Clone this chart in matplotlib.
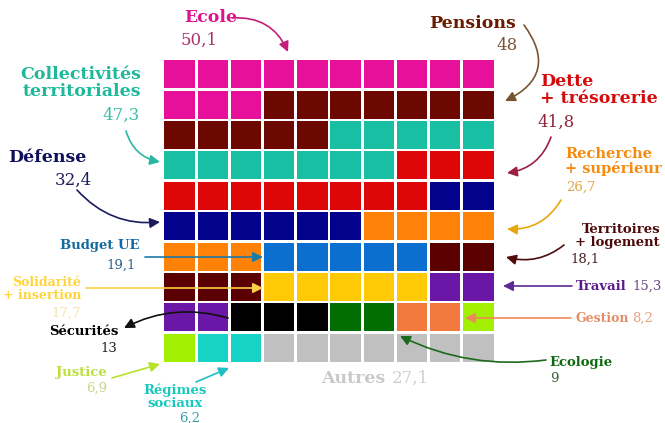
import matplotlib
matplotlib.use("Agg")
import matplotlib.pyplot as plt
from matplotlib.patches import Rectangle

W, H = 665, 423

categories = ["Ecole", "Pensions", "Collectivités territoriales", "Dette + trésorerie",
              "Défense", "Recherche + supérieur", "Budget UE", "Territoires + logement",
              "Solidarité + insertion", "Travail", "Sécurités", "Ecologie", "Gestion",
              "Justice", "Régimes sociaux", "Autres"]
values = [50.1, 48, 47.3, 41.8, 32.4, 26.7, 19.1, 18.1, 17.7, 15.3, 13, 9, 8.2, 6.9, 6.2, 27.1]
value_labels = ["50,1", "48", "47,3", "41,8", "32,4", "26,7", "19,1", "18,1", "17,7",
                "15,3", "13", "9", "8,2", "6,9", "6,2", "27,1"]
cell_colors = ["#e6109a", "#6c0800", "#19bfa3", "#de0606", "#02028c", "#ff8208",
               "#0b6fcf", "#5a0000", "#ffc906", "#6a16a6", "#000000", "#026e02",
               "#f27a3e", "#a2ef04", "#16d3c6", "#c0c0c0"]

n_rows, n_cols = 10, 10
total = sum(values)
counts = [round(v / total * n_rows * n_cols) for v in values]

fig = plt.figure(figsize=(W / 100, H / 100), dpi=100)
fig.patch.set_facecolor("white")

# waffle grid axes
gx0, gx1, gy0, gy1 = 163, 495, 59, 363
ax = fig.add_axes([gx0 / W, 1 - gy1 / H, (gx1 - gx0) / W, (gy1 - gy0) / H])
ax.set_xlim(0, n_cols)
ax.set_ylim(n_rows, 0)
ax.axis("off")

gap = 0.08
idx = 0
for c, col in zip(counts, cell_colors):
    for _ in range(c):
        r, k = divmod(idx, n_cols)
        ax.add_patch(Rectangle((k + gap / 2, r + gap / 2), 1 - gap, 1 - gap,
                               facecolor=col, edgecolor="none"))
        idx += 1

BOLD = dict(family="DejaVu Serif", fontweight="bold")
NUM = dict(family="DejaVu Serif", fontweight="light")


def P(x, y):
    return (x / W, 1 - y / H)


def txt(x, y, s, color, size, ha="left", bold=True, **kw):
    st = BOLD if bold else NUM
    fig.text(*P(x, y), s, color=color, fontsize=size, ha=ha, va="center",
             linespacing=1.0, **st, **kw)


def arrow(x0, y0, x1, y1, color, rad=0.0, lw=1.2):
    ax.annotate("", xy=P(x1, y1), xytext=P(x0, y0),
                xycoords="figure fraction", textcoords="figure fraction",
                arrowprops=dict(arrowstyle="-|>,head_length=0.6,head_width=0.3",
                                color=color, lw=lw,
                                connectionstyle=f"arc3,rad={rad}",
                                shrinkA=0, shrinkB=0),
                annotation_clip=False)


big, small = 12.5, 9.5

# Ecole
txt(211, 18, "Ecole", "#e0138f", big, ha="center")
txt(199, 40, value_labels[0], "#a8346c", 12, ha="center", bold=False)
arrow(232, 18, 288, 52, "#c51d7c", rad=-0.35)

# Collectivités
txt(141, 83, "Collectivités\nterritoriales", "#1db99b", big, ha="right", multialignment="right")
txt(140, 115, value_labels[2], "#3dbfa2", 12, ha="right", bold=False)
arrow(126, 131, 160, 162, "#2ab7a0", rad=0.3)

# Défense
txt(8, 157, "Défense", "#0f0f5e", big)
txt(92, 180, value_labels[4], "#1c1c5c", 12, ha="right", bold=False)
arrow(77, 190, 160, 222, "#1b1b60", rad=0.25)

# Budget UE
txt(140, 246, "Budget UE", "#1469a0", small, ha="right")
txt(136, 265, value_labels[6], "#2a5f8e", 9.5, ha="right", bold=False)
arrow(145, 257, 263, 257, "#1b7aa6", rad=0.0)

# Solidarité
txt(81, 289, "Solidarité\n+ insertion", "#ffd43a", 9, ha="right", multialignment="right")
txt(66, 313, value_labels[8], "#f3e3a6", 9.5, ha="center", bold=False)
arrow(86, 288, 263, 288, "#f9d24a", rad=0.0)

# Sécurités
txt(118, 331, "Sécurités", "#000000", small, ha="right")
txt(117, 348, value_labels[10], "#222222", 9.5, ha="right", bold=False)
arrow(228, 318, 124, 328, "#111111", rad=0.2)

# Justice
txt(81, 372, "Justice", "#bcdf3a", small, ha="center")
txt(97, 388, value_labels[13], "#c6d68c", 9.5, ha="center", bold=False)
arrow(112, 378, 160, 364, "#b7e22c", rad=0.0)

# Régimes sociaux
txt(175, 397, "Régimes\nsociaux", "#18c8bc", small, ha="center", multialignment="center")
txt(190, 418, value_labels[14], "#3f9fa4", 9.5, ha="center", bold=False)
arrow(196, 382, 229, 368, "#21bfc2", rad=0.0)

# Autres
txt(353, 378, "Autres", "#c9c9c9", big, ha="center")
txt(392, 378, value_labels[15], "#cfcfcf", 12, bold=False)

# Pensions
txt(516, 24, "Pensions", "#6b1a00", big, ha="right")
txt(518, 45, value_labels[1], "#7b5236", 12, ha="right", bold=False)
arrow(524, 25, 505, 101, "#7a5431", rad=-0.6)

# Dette
txt(540, 90, "Dette\n+ trésorerie", "#d60a0a", big, multialignment="left")
txt(537, 122, value_labels[3], "#8f2436", 12, bold=False)
arrow(551, 137, 507, 173, "#9c2140", rad=-0.3)

# Recherche
txt(565, 161, "Recherche\n+ supérieur", "#f58a0c", 10.5, multialignment="left")
txt(566, 187, value_labels[5], "#e0a448", 9.5, bold=False)
arrow(561, 200, 507, 229, "#e8a610", rad=-0.3)

# Territoires
txt(660, 236, "Territoires\n+ logement", "#4d0a0a", small, ha="right", multialignment="right")
txt(570, 259, value_labels[7], "#4a2222", 9.5, bold=False)
arrow(564, 245, 506, 257, "#500c0c", rad=-0.25)

# Travail
txt(576, 286, "Travail", "#5a1a8c", small)
txt(632, 286, value_labels[9], "#6a4a80", 9.5, bold=False)
arrow(572, 286, 503, 286, "#5e2a94", rad=0.0)

# Gestion
txt(576, 318, "Gestion", "#e58c66", 9)
txt(632, 318, value_labels[12], "#e3a282", 9.5, bold=False)
arrow(571, 318, 465, 318, "#ec8a5a", rad=0.0)

# Ecologie
txt(549, 362, "Ecologie", "#0e6a0e", small)
txt(550, 378, value_labels[11], "#3e5e3e", 9.5, bold=False)
arrow(546, 360, 400, 336, "#1c6a1c", rad=-0.15)

fig.savefig("out.png", dpi=100, facecolor="white")
